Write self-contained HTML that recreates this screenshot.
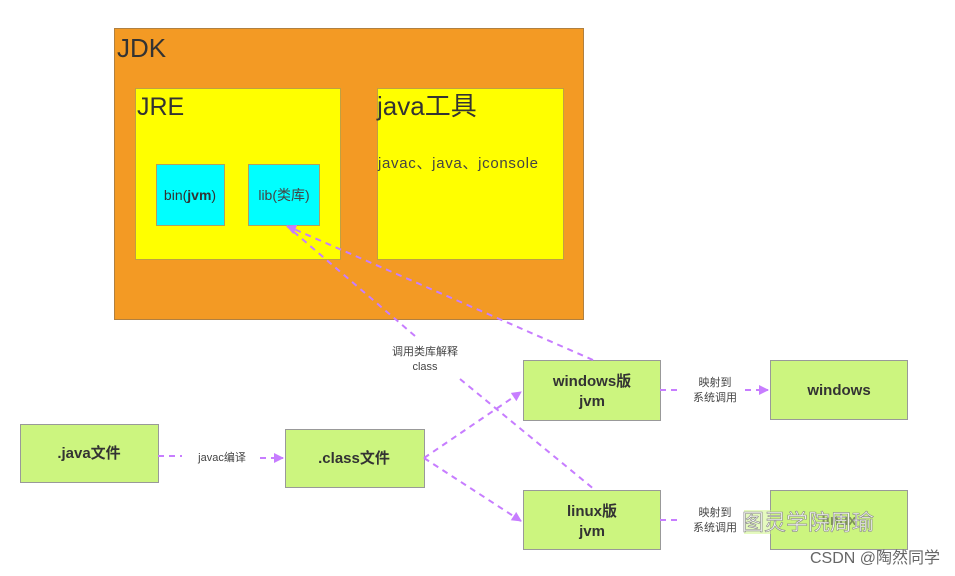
<!DOCTYPE html>
<html><head><meta charset="utf-8"><style>
body{margin:0;background:#fff;}
svg{display:block;}
text{font-family:"Liberation Sans","Noto Sans CJK SC",sans-serif;}
</style></head><body>
<svg width="955" height="576" viewBox="0 0 955 576" xmlns="http://www.w3.org/2000/svg">
<defs>
<marker id="a" markerWidth="10" markerHeight="10" refX="9" refY="5" orient="auto" markerUnits="userSpaceOnUse">
<path d="M0,0 L10,5 L0,10 z" fill="#c77dff"/></marker>
</defs>
<rect x="114.5" y="28.5" width="469" height="291" fill="#f39a24" stroke="#b08040"/>
<text x="117" y="57" font-size="26" fill="#333">JDK</text>
<rect x="135.5" y="88.5" width="205" height="171" fill="#ffff00" stroke="#c0a040"/>
<text x="137" y="115" font-size="25" fill="#333">JRE</text>
<rect x="377.5" y="88.5" width="186" height="171" fill="#ffff00" stroke="#c0a040"/>
<text x="377" y="115" font-size="26" fill="#333">java工具</text>
<text x="378" y="168" font-size="15" fill="#444" textLength="160">javac、java、jconsole</text>
<rect x="156.5" y="164.5" width="68" height="61" fill="#00ffff" stroke="#b0a060"/>
<text x="190" y="200" font-size="14" fill="#333" text-anchor="middle">bin(<tspan font-weight="bold">jvm</tspan>)</text>
<rect x="248.5" y="164.5" width="71" height="61" fill="#00ffff" stroke="#b0a060"/>
<text x="284" y="200" font-size="14" fill="#444" text-anchor="middle">lib(类库)</text>

<g fill="#ccf57f" stroke="#999">
<rect x="20.5" y="424.5" width="138" height="58"/>
<rect x="285.5" y="429.5" width="139" height="58"/>
<rect x="523.5" y="360.5" width="137" height="60"/>
<rect x="523.5" y="490.5" width="137" height="59"/>
<rect x="770.5" y="360.5" width="137" height="59"/>
<rect x="770.5" y="490.5" width="137" height="59"/>
</g>
<g font-size="15" font-weight="bold" fill="#333" text-anchor="middle">
<text x="89" y="458">.java文件</text>
<text x="354" y="463">.class文件</text>
<text x="592" y="386">windows版</text><text x="592" y="406">jvm</text>
<text x="592" y="516">linux版</text><text x="592" y="536">jvm</text>
<text x="839" y="395">windows</text>
<text x="839" y="525">linux</text>
</g>

<g stroke="#c77dff" stroke-width="2" stroke-dasharray="6,5" fill="none">
<line x1="593" y1="360" x2="287" y2="226" marker-end="url(#a)"/>
<line x1="415" y1="336" x2="287" y2="226"/>
<line x1="460" y1="379" x2="595" y2="490"/>
<line x1="424" y1="458" x2="521" y2="392" marker-end="url(#a)"/>
<line x1="424" y1="458" x2="521" y2="521" marker-end="url(#a)"/>
<line x1="158" y1="456" x2="182" y2="456"/>
<line x1="260" y1="458" x2="283" y2="458" marker-end="url(#a)"/>
<line x1="660" y1="390" x2="682" y2="390"/>
<line x1="745" y1="390" x2="768" y2="390" marker-end="url(#a)"/>
<line x1="660" y1="520" x2="682" y2="520"/>
</g>
<g font-size="11" fill="#444" text-anchor="middle">
<text x="222" y="461">javac编译</text>
<text x="425" y="355">调用类库解释</text><text x="425" y="370">class</text>
<text x="715" y="386">映射到</text><text x="715" y="401">系统调用</text>
<text x="715" y="516">映射到</text><text x="715" y="531">系统调用</text>
</g>
<rect x="744" y="510" width="140" height="24" fill="#ccf57f" fill-opacity="0.5"/>
<text x="742" y="530" font-size="22" fill="#f4f4f4" stroke="#888" stroke-width="0.6">图灵学院周瑜</text>
<text x="940" y="563" font-size="16" fill="#666" text-anchor="end">CSDN @陶然同学</text>
</svg>
</body></html>
